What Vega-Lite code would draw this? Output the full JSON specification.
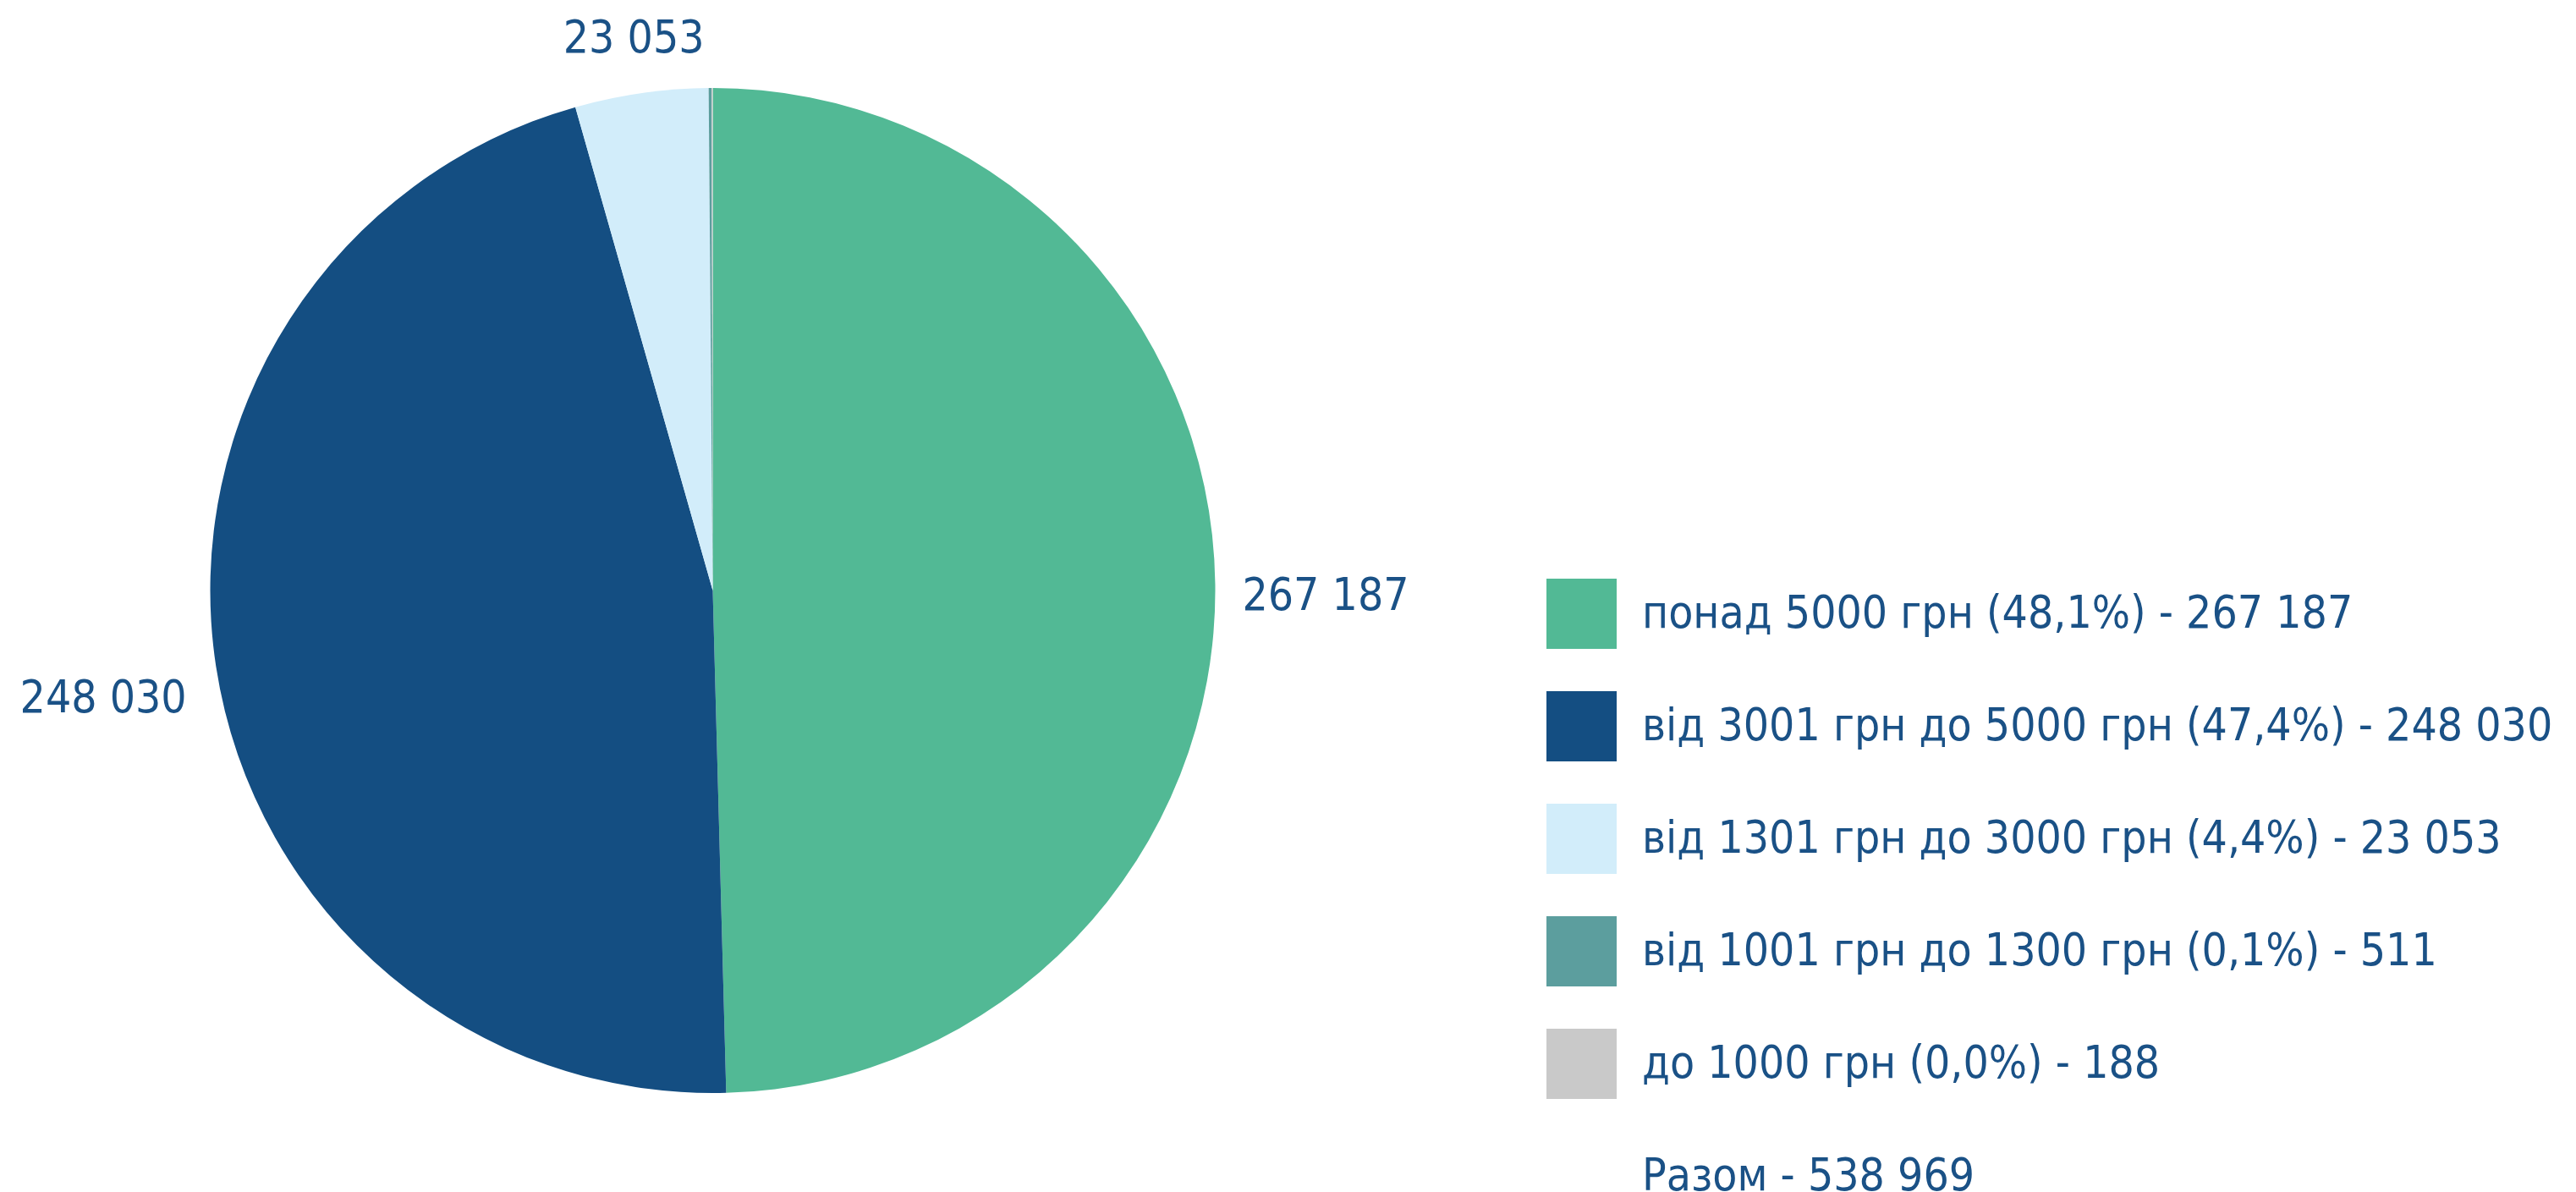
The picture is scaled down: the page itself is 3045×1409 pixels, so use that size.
{
  "$schema": "https://vega.github.io/schema/vega-lite/v6.json",
  "width": 1685,
  "height": 1396,
  "padding": 0,
  "background": "#ffffff",
  "data": {
    "values": [
      {"cat": "понад 5000 грн (48,1%) - 267 187", "value": 267187, "label": "267 187"},
      {"cat": "від 3001 грн до 5000 грн (47,4%) - 248 030", "value": 248030, "label": "248 030"},
      {"cat": "від 1301 грн до 3000 грн (4,4%) - 23 053", "value": 23053, "label": "23 053"},
      {"cat": "від 1001 грн до 1300 грн (0,1%) - 511", "value": 511, "label": "511"},
      {"cat": "до 1000 грн (0,0%) - 188", "value": 188, "label": "188"},
      {"cat": "Разом - 538 969", "value": 0, "label": ""}
    ]
  },
  "encoding": {
    "theta": {"field": "value", "type": "quantitative", "stack": true},
    "order": {"field": "value", "type": "quantitative", "sort": "descending"}
  },
  "layer": [
    {
      "mark": {"type": "arc", "outerRadius": 594, "stroke": null, "strokeWidth": 0},
      "encoding": {
        "color": {
          "field": "cat",
          "type": "nominal",
          "scale": {
            "domain": [
              "понад 5000 грн (48,1%) - 267 187",
              "від 3001 грн до 5000 грн (47,4%) - 248 030",
              "від 1301 грн до 3000 грн (4,4%) - 23 053",
              "від 1001 грн до 1300 грн (0,1%) - 511",
              "до 1000 грн (0,0%) - 188",
              "Разом - 538 969"
            ],
            "range": ["#52b995", "#144e82", "#d2edfa", "#5c9e9e", "#c9c9c9", "#ffffff"]
          },
          "legend": {
            "title": null,
            "orient": "none",
            "legendX": 1828,
            "legendY": 684,
            "symbolType": "square",
            "symbolSize": 6889,
            "symbolStrokeWidth": 0,
            "symbolOpacity": 1,
            "labelFont": "DejaVu Sans Condensed, Roboto, sans-serif",
            "labelFontSize": 53,
            "labelColor": "#1a5186",
            "labelOffset": 30,
            "labelLimit": 2000,
            "rowPadding": 50,
            "padding": 0
          }
        }
      }
    },
    {
      "mark": {"type": "text", "radius": 626, "align": "left", "baseline": "middle", "dy": 15, "font": "DejaVu Sans Condensed, Roboto, sans-serif", "fontSize": 53, "color": "#1a5186"},
      "encoding": {
        "detail": {"field": "cat", "type": "nominal"},
        "text": {"condition": {"test": "datum.value == 267187", "field": "label"}, "value": ""}
      }
    },
    {
      "mark": {"type": "text", "radius": 626, "align": "right", "baseline": "middle", "dx": -3, "dy": 33, "font": "DejaVu Sans Condensed, Roboto, sans-serif", "fontSize": 53, "color": "#1a5186"},
      "encoding": {
        "detail": {"field": "cat", "type": "nominal"},
        "text": {"condition": {"test": "datum.value == 248030", "field": "label"}, "value": ""}
      }
    },
    {
      "mark": {"type": "text", "radius": 657, "align": "center", "baseline": "middle", "dy": -2, "font": "DejaVu Sans Condensed, Roboto, sans-serif", "fontSize": 53, "color": "#1a5186"},
      "encoding": {
        "detail": {"field": "cat", "type": "nominal"},
        "text": {"condition": {"test": "datum.value == 23053", "field": "label"}, "value": ""}
      }
    }
  ],
  "config": {"view": {"stroke": null}}
}
